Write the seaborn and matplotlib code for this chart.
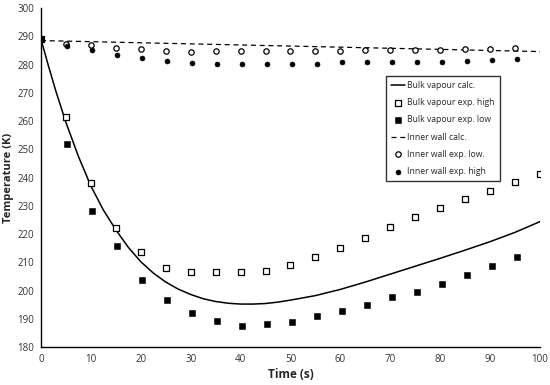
import numpy as np
import pandas as pd
import seaborn as sns
import matplotlib
matplotlib.use("Agg")
import matplotlib.pyplot as plt

# ---- data ----
t_calc = [0, 1.5, 3, 5, 7.5, 10, 12.5, 15, 17.5, 20, 22.5, 25, 27.5, 30, 32.5, 35, 37.5, 40,
          42.5, 45, 47.5, 50, 55, 60, 65, 70, 75, 80, 85, 90, 95, 100]
bulk_calc = [289, 279.5, 270.5, 259.5, 247.5, 237, 228.5, 221.5, 215.3, 210.2, 206.2, 203,
             200.5, 198.6, 197.1, 196.1, 195.5, 195.2, 195.2, 195.4, 195.9, 196.6, 198.2,
             200.4, 203, 205.8, 208.6, 211.4, 214.3, 217.3, 220.6, 224.4]
t_wall_calc = [0, 100]
wall_calc = [288.5, 284.6]

t_high = [0, 5, 10, 15, 20, 25, 30, 35, 40, 45, 50, 55, 60, 65, 70, 75, 80, 85, 90, 95, 100]
bulk_high = [289, 261.4, 238.1, 222, 213.6, 208, 206.5, 206.5, 206.7, 207, 209, 212, 215,
             218.6, 222.5, 226, 229.3, 232.4, 235.4, 238.4, 241.2]

t_low = [0, 5.3, 10.3, 15.3, 20.3, 25.3, 30.3, 35.3, 40.3, 45.3, 50.3, 55.3, 60.3, 65.3, 70.3,
         75.3, 80.3, 85.3, 90.3, 95.3]
bulk_low = [289, 252, 228, 215.6, 203.8, 196.8, 192, 189.2, 187.6, 188.2, 188.8, 190.8, 192.6,
            194.8, 197.6, 199.6, 202.4, 205.4, 208.6, 212]

t_wall_low = [0, 5, 10, 15, 20, 25, 30, 35, 40, 45, 50, 55, 60, 65, 70, 75, 80, 85, 90, 95]
wall_low = [289, 287.4, 286.8, 286, 285.5, 284.9, 284.4, 284.7, 284.7, 284.7, 284.9, 284.9,
            284.9, 285, 285, 285, 285.1, 285.4, 285.6, 285.8]
t_wall_high = [0, 5.3, 10.3, 15.3, 20.3, 25.3, 30.3, 35.3, 40.3, 45.3, 50.3, 55.3, 60.3, 65.3,
               70.3, 75.3, 80.3, 85.3, 90.3, 95.3]
wall_high = [289, 286.7, 285.1, 283.5, 282.2, 281.2, 280.6, 280.2, 280.2, 280.2, 280.2, 280.3,
             280.8, 280.9, 280.9, 280.9, 280.9, 281.4, 281.5, 281.8]

sns.set_style("white")
plt.rcParams['font.family'] = ['Open Sans', 'DejaVu Sans']

fig = plt.figure(figsize=(5.5, 3.85), dpi=100)
ax = fig.add_axes([0.0745, 0.0987, 0.9073, 0.8803])

sns.lineplot(x=t_calc, y=bulk_calc, ax=ax, color='black', lw=1.1, label='Bulk vapour calc.')
sns.scatterplot(x=t_high, y=bulk_high, ax=ax, marker='s', s=24, facecolor='white',
                edgecolor='black', linewidth=0.9, label='Bulk vapour exp. high', zorder=3)
sns.scatterplot(x=t_low, y=bulk_low, ax=ax, marker='s', s=16, color='black',
                edgecolor='black', linewidth=0.4, label='Bulk vapour exp. low', zorder=3)
sns.lineplot(x=t_wall_calc, y=wall_calc, ax=ax, color='black', lw=0.9,
             linestyle=(0, (4, 3)), label='Inner wall calc.')
sns.scatterplot(x=t_wall_low, y=wall_low, ax=ax, marker='o', s=15, facecolor='white',
                edgecolor='black', linewidth=0.9, label='Inner wall exp. low.', zorder=3)
sns.scatterplot(x=t_wall_high, y=wall_high, ax=ax, marker='o', s=13, color='black',
                edgecolor='black', linewidth=0.4, label='Inner wall exp. high', zorder=3)

ax.set_xlim(0, 100)
ax.set_ylim(180, 300)
ax.set_xticks(range(0, 101, 10))
ax.set_yticks(range(180, 301, 10))
ax.tick_params(axis='both', labelsize=7, direction='out', length=3, width=0.8,
               color='black', pad=2, labelcolor='#333333')
for s in ['top', 'right']:
    ax.spines[s].set_visible(False)
for s in ['left', 'bottom']:
    ax.spines[s].set_color('black')
    ax.spines[s].set_linewidth(1.0)
ax.set_xlabel('Time (s)', fontsize=8.5, fontweight='bold', labelpad=2)
ax.set_ylabel('Temperature (K)', fontsize=8, fontweight='bold', labelpad=2)

leg = ax.legend(loc='upper left', bbox_to_anchor=(0.692, 0.80), fontsize=6.2, frameon=True,
                fancybox=False, edgecolor='black', handlelength=1.6, labelspacing=0.95,
                borderpad=0.6, handletextpad=0.25, borderaxespad=0)
leg.get_frame().set_linewidth(1.0)

fig.savefig('out.png', dpi=100)
